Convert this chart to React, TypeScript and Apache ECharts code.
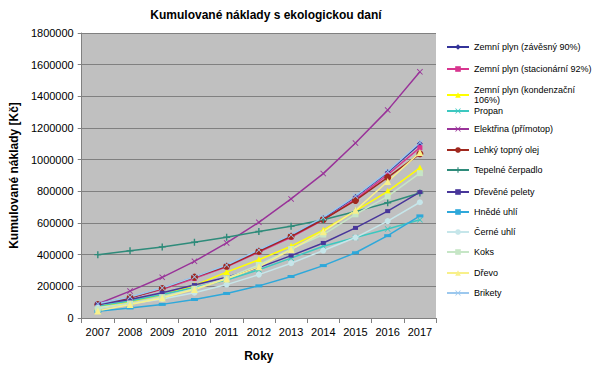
import React, { useEffect, useRef } from "react";
import * as echarts from "echarts";

const years = ["2007", "2008", "2009", "2010", "2011", "2012", "2013", "2014", "2015", "2016", "2017"];

const zemniPlyn90 = [87000, 130000, 185000, 255000, 330000, 425000, 520000, 630000, 765000, 920000, 1100000];
const zemniPlyn92 = [85000, 127000, 181000, 250000, 323000, 416000, 510000, 620000, 750000, 905000, 1076000];
const zemniPlyn106 = [72000, 104000, 146000, 205000, 290000, 368000, 453000, 555000, 676000, 800000, 948000];
const propan = [75000, 108000, 148000, 192000, 240000, 305000, 378000, 453000, 508000, 562000, 620000];
const elektrina = [88000, 170000, 257000, 358000, 474000, 604000, 752000, 912000, 1105000, 1313000, 1555000];
const lehkyTopnyOlej = [85000, 127000, 186000, 258000, 327000, 421000, 516000, 622000, 743000, 888000, 1037000];
const tepelneCerpadlo = [400000, 424000, 449000, 478000, 510000, 546000, 579000, 620000, 672000, 728000, 790000];
const drevenePelety = [85000, 117000, 160000, 208000, 258000, 318000, 394000, 474000, 569000, 675000, 795000];
const hnedeUhli = [43000, 63000, 86000, 117000, 155000, 203000, 262000, 331000, 412000, 520000, 645000];
const cerneUhli = [65000, 90000, 120000, 160000, 211000, 274000, 346000, 426000, 508000, 612000, 731000];
const koks = [58000, 92000, 132000, 185000, 252000, 335000, 436000, 527000, 655000, 768000, 915000];
const drevo = [45000, 85000, 127000, 180000, 247000, 323000, 432000, 545000, 680000, 862000, 1045000];
const brikety = [90000, 133000, 190000, 260000, 335000, 430000, 525000, 635000, 770000, 925000, 1108000];

const X_SYM = "path://M0,1L1,0L5,4L9,0L10,1L6,5L10,9L9,10L5,6L1,10L0,9L4,5Z";
const PLUS_SYM = "path://M4,0H6V4H10V6H6V10H4V6H0V4H4Z";

const seriesDefs = [
  { name: "Zemní plyn (závěsný 90%)", data: zemniPlyn90, color: "#333399", symbol: "diamond", size: 6 },
  { name: "Zemní plyn (stacionární 92%)", data: zemniPlyn92, color: "#D8358F", symbol: "rect", size: 5 },
  { name: "Zemní plyn (kondenzační 106%)", data: zemniPlyn106, color: "#FFFF00", symbol: "triangle", size: 7 },
  { name: "Propan", data: propan, color: "#3CC8C0", symbol: X_SYM, size: 6 },
  { name: "Elektřina (přímotop)", data: elektrina, color: "#993399", symbol: X_SYM, size: 6 },
  { name: "Lehký topný olej", data: lehkyTopnyOlej, color: "#A0281E", symbol: "circle", size: 7 },
  { name: "Tepelné čerpadlo", data: tepelneCerpadlo, color: "#2E8B7A", symbol: PLUS_SYM, size: 7 },
  { name: "Dřevěné pelety", data: drevenePelety, color: "#48369A", symbol: "rect", size: [5, 4] },
  { name: "Hnědé uhlí", data: hnedeUhli, color: "#2EA8DA", symbol: "rect", size: [7, 3] },
  { name: "Černé uhlí", data: cerneUhli, color: "#C6E6EA", symbol: "circle", size: 6 },
  { name: "Koks", data: koks, color: "#C6E6C6", symbol: "rect", size: 6 },
  { name: "Dřevo", data: drevo, color: "#F8F08A", symbol: "triangle", size: 7 },
  { name: "Brikety", data: brikety, color: "#9CC8EE", symbol: X_SYM, size: 6 },
];

const legendTops = [41, 63, 85, 105, 123, 144, 164, 186, 206, 226, 246, 267, 287];

const FONT = "'Liberation Sans', Arial, sans-serif";

export default function App() {
  const ref = useRef<HTMLDivElement>(null);
  useEffect(() => {
    if (!ref.current) return;
    document.body.style.margin = "0";
    const chart = echarts.init(ref.current, undefined, { renderer: "svg" });
    const legends = seriesDefs.map((s, i) => {
      const twoLine = s.name === "Zemní plyn (kondenzační 106%)";
      return {
        data: [s.name],
        left: 446,
        top: legendTops[i],
        orient: "vertical",
        padding: 0,
        itemWidth: 22,
        itemHeight: 7,
        formatter: (n: string) => (n === "Zemní plyn (kondenzační 106%)" ? "Zemní plyn (kondenzační\n106%)" : n),
        textStyle: { fontSize: 9, fontFamily: FONT, color: "#000", lineHeight: twoLine ? 10 : 12 },
        selectedMode: false,
      };
    });
    chart.setOption({
      animation: false,
      backgroundColor: "#fff",
      textStyle: { fontFamily: FONT },
      title: {
        text: "Kumulované náklady s ekologickou daní",
        left: 261,
        textAlign: "center",
        top: 4,
        textStyle: { fontSize: 12, fontWeight: "bold", color: "#000", fontFamily: FONT },
      },
      legend: legends,
      grid: {
        left: 80,
        right: 164,
        top: 33,
        bottom: 53,
        show: true,
        backgroundColor: "#C0C0C0",
        borderWidth: 0,
      },
      xAxis: {
        type: "category",
        data: years,
        boundaryGap: true,
        name: "Roky",
        nameLocation: "middle",
        nameGap: 32,
        nameTextStyle: { fontSize: 12, fontWeight: "bold", color: "#000", fontFamily: FONT },
        axisLine: { lineStyle: { color: "#808080", width: 1 } },
        axisTick: { show: true, length: 5, lineStyle: { color: "#808080" } },
        axisLabel: { fontSize: 11, color: "#000", margin: 8, interval: 0, fontFamily: FONT },
      },
      yAxis: {
        type: "value",
        min: 0,
        max: 1800000,
        interval: 200000,
        name: "Kumulované náklady [Kč]",
        nameLocation: "middle",
        nameGap: 58,
        nameRotate: 90,
        nameTextStyle: { fontSize: 12, fontWeight: "bold", color: "#000", fontFamily: FONT },
        axisLine: { show: true, lineStyle: { color: "#808080", width: 1 } },
        axisTick: { show: true, length: 4, lineStyle: { color: "#808080" } },
        axisLabel: { fontSize: 11, color: "#000", margin: 8, fontFamily: FONT, formatter: (v: number) => String(v) },
        splitLine: { show: true, lineStyle: { color: "#808080", width: 1 } },
      },
      series: seriesDefs.map((s) => ({
        name: s.name,
        type: "line",
        data: s.data,
        symbol: s.symbol,
        symbolSize: s.size,
        showSymbol: true,
        lineStyle: { color: s.color, width: 1.5 },
        itemStyle: { color: s.color },
      })),
    });
    return () => chart.dispose();
  }, []);
  return <div ref={ref} style={{ width: 600, height: 371 }} />;
}
